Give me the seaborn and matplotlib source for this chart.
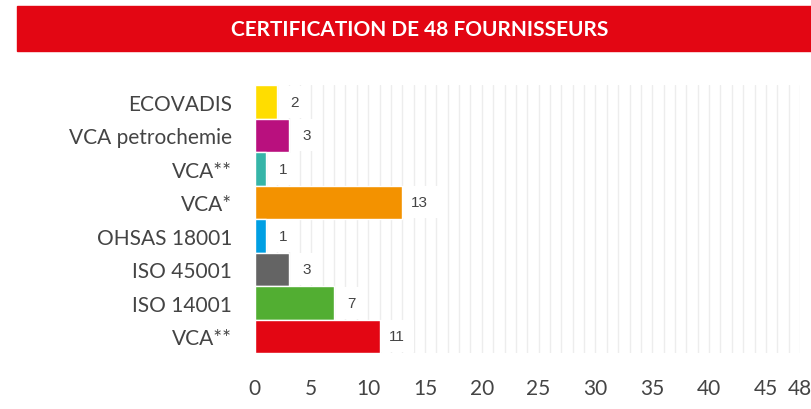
import numpy as np
import matplotlib
matplotlib.use('Agg')
import matplotlib.pyplot as plt
import seaborn as sns

# --- DATA ---
labels = ['ECOVADIS', 'VCA petrochemie', 'VCA**', 'VCA*', 'OHSAS 18001',
          'ISO 45001', 'ISO 14001', 'VCA**']
counts = [2, 3, 1, 13, 1, 3, 7, 11]
colors = ['#FFDD00', '#B9107E', '#36B5A8', '#F39200', '#009FE3',
          '#646464', '#52AE32', '#E30613']
xticks = [0, 5, 10, 15, 20, 25, 30, 35, 40, 45, 48]
title = 'CERTIFICATION DE 48 FOURNISSEURS'

sns.set_style('white')
plt.rcParams['font.family'] = ['Lato', 'DejaVu Sans']

TEXT = '#444444'
RED = '#E30613'

fig = plt.figure(figsize=(8.11, 4.10), dpi=100)
ax = fig.add_axes([254.5/811, 1 - 354/410, 545.5/811, (354 - 86)/410])

pos = [str(i) for i in range(len(labels))]
sns.barplot(x=counts, y=pos, hue=pos, palette=colors, orient='h',
            width=1.0, legend=False, saturation=1, ax=ax, zorder=2)

# value labels sit in a white box right of each bar
for i, v in enumerate(counts):
    ax.text(v + 1.55, i, str(v), ha='center', va='center', fontsize=11,
            color=TEXT, family=['Liberation Sans', 'DejaVu Sans'], zorder=3,
            bbox=dict(boxstyle='square,pad=0.6', fc='white', ec='none'))

ax.set_xlim(0, 48)
ax.set_ylim(len(labels) - 0.5, -0.5)
ax.set_xticks(xticks)
ax.set_xticks(range(49), minor=True)
ax.set_yticks(range(len(labels)))
ax.set_yticklabels(labels)
ax.grid(axis='x', which='both', color='#EDEDED', lw=1)
ax.set_axisbelow(True)
ax.tick_params(which='both', length=0)
ax.tick_params(axis='x', pad=18, labelsize=15, labelcolor=TEXT)
ax.tick_params(axis='y', pad=16, labelsize=15, labelcolor=TEXT)
ax.set_xlabel('')
ax.set_ylabel('')
sns.despine(ax=ax, left=True, bottom=True)

# title banner
fig.patches.append(plt.Rectangle((17/811, 1 - 52/410), 1, 45/410,
                                 transform=fig.transFigure, color=RED,
                                 zorder=0))
fig.text(420/811, 1 - 30/410, title, ha='center', va='center',
         color='white', fontsize=15, fontweight='bold')

fig.savefig('out.png', dpi=100)
